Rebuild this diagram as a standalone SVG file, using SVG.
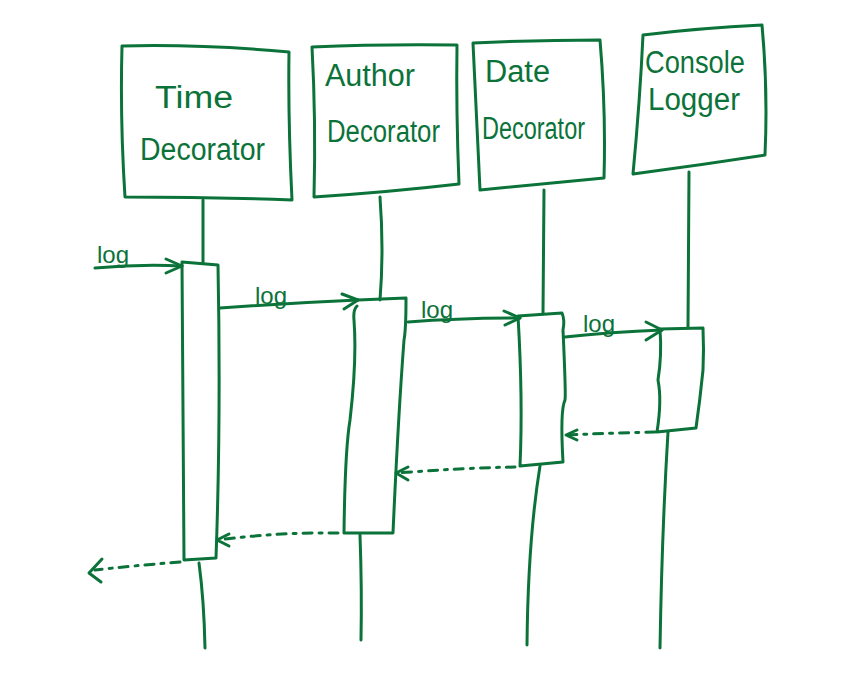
<svg xmlns="http://www.w3.org/2000/svg" width="860" height="675" viewBox="0 0 860 675">
<style>
.s{fill:none;stroke:#0b7339;stroke-width:3;stroke-linecap:round;stroke-linejoin:round}
.d{fill:none;stroke:#0b7339;stroke-width:3;stroke-linecap:round;stroke-dasharray:9 7 3 7}
.t{font-family:"Liberation Sans",Arial,sans-serif;fill:#0b7339;font-size:31px}
.l{font-family:"Liberation Sans",Arial,sans-serif;fill:#0b7339;font-size:24px}
</style>
<rect width="860" height="675" fill="#fff"/>
<g id="time-decorator">
<path class="s" d="M122,46 Q200,44 289,52 Q288,120 292,200 Q210,197 125,197 Q120,120 122,46"/>
<text class="t" x="155" y="108" textLength="78" lengthAdjust="spacingAndGlyphs">Time</text>
<text class="t" x="140" y="160" textLength="125" lengthAdjust="spacingAndGlyphs">Decorator</text>
</g>
<g id="author-decorator">
<path class="s" d="M312,47 Q380,44 457,45 Q456,110 459,184 Q390,192 314,197 Q316,120 312,47"/>
<text class="t" x="325" y="86" textLength="90" lengthAdjust="spacingAndGlyphs">Author</text>
<text class="t" x="327" y="142" textLength="113" lengthAdjust="spacingAndGlyphs">Decorator</text>
</g>
<g id="date-decorator">
<path class="s" d="M473,43 Q540,40 600,40 Q606,110 604,178 Q540,184 480,190 Q476,110 473,43"/>
<text class="t" x="485" y="82" textLength="65" lengthAdjust="spacingAndGlyphs">Date</text>
<text class="t" x="482" y="139" textLength="103" lengthAdjust="spacingAndGlyphs">Decorator</text>
</g>
<g id="console-logger">
<path class="s" d="M643,35 Q700,28 762,25 Q768,90 765,155 Q700,165 633,174 Q640,100 643,35"/>
<text class="t" x="645" y="73" textLength="100" lengthAdjust="spacingAndGlyphs">Console</text>
<text class="t" x="648" y="110" textLength="92" lengthAdjust="spacingAndGlyphs">Logger</text>
</g>
<g id="lifelines">
<path class="s" d="M203,200 L203,262"/>
<path class="s" d="M199,563 Q204,600 205,648"/>
<path class="s" d="M380,197 Q384,250 380,300"/>
<path class="s" d="M360,535 Q362,590 361,640"/>
<path class="s" d="M544,190 L543,314"/>
<path class="s" d="M540,466 Q528,540 527,645"/>
<path class="s" d="M689,172 L688,328"/>
<path class="s" d="M668,432 Q662,530 660,648"/>
</g>
<g id="activations">
<path class="s" d="M182,262 L218,265 Q221,420 216,558 L184,560 Q183,430 182,262"/>
<path class="s" d="M358,300 L406,298 Q406,330 404,340 Q398,420 393,533 L344,533 Q345,450 350,420 Q357,360 354,320 Q353,310 357,306"/>
<path class="s" d="M518,316 L562,313 Q565,320 563,330 Q566,395 565,400 Q560,410 563,462 L520,466 Q523,400 518,316"/>
<path class="s" d="M660,329 L703,328 Q704,350 703,370 Q700,400 696,428 L657,432 Q662,400 658,380 Q662,355 660,329"/>
</g>
<g id="connectors">
<path class="s" d="M95,268 Q140,264 182,266"/>
<path class="s" d="M166,259 L182,266 L166,273"/>
<text class="l" x="97" y="263">log</text>
<path class="s" d="M220,308 Q290,303 358,300"/>
<path class="s" d="M342,294 L358,300 L344,309"/>
<text class="l" x="255" y="304">log</text>
<path class="s" d="M408,322 Q460,318 520,318"/>
<path class="s" d="M504,311 L520,318 L505,325"/>
<text class="l" x="421" y="318">log</text>
<path class="s" d="M565,337 Q610,332 662,330"/>
<path class="s" d="M646,322 L662,330 L646,340"/>
<text class="l" x="583" y="332">log</text>
<path class="d" d="M655,432 Q610,433 567,435"/>
<path class="s" d="M577,430 L566,435 L577,440"/>
<path class="d" d="M515,467 Q460,468 397,473"/>
<path class="s" d="M408,467 L396,473 L408,480"/>
<path class="d" d="M338,533 Q280,532 218,540"/>
<path class="s" d="M229,534 L217,540 L229,546"/>
<path class="d" d="M180,562 Q130,566 95,570"/>
<path class="s" d="M102,559 L89,573 L101,582"/>
</g>
</svg>
